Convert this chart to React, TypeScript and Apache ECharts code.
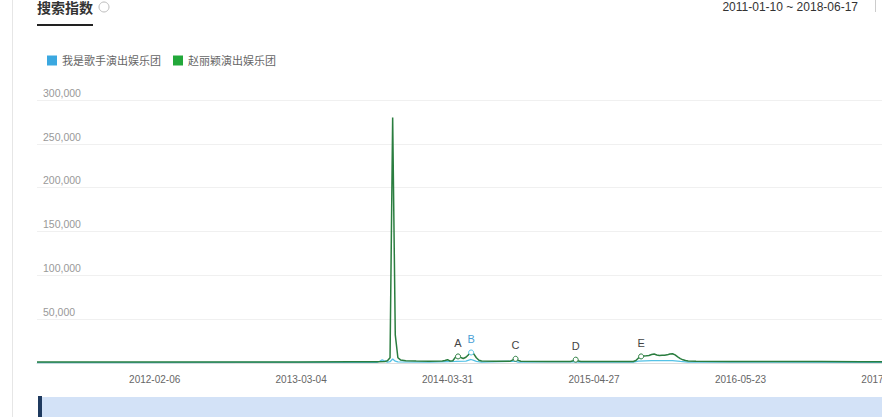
import React, { useEffect, useRef } from "react";
import * as echarts from "echarts";

const startDate = "2011-03-28";
const weekCount = 331;
const firstLabelIndex = 45;
const labelEvery = 56;

const seriesNames = ["我是歌手演出娱乐团", "赵丽颖演出娱乐团"];

// [week index, value]
const bluePoints: [number, number][] = [
  [0, 500], [40, 500], [80, 600], [120, 700], [130, 800], [131, 2000], [132, 3500],
  [133, 2200], [134, 900], [135, 1500], [136, 4500], [137, 2000], [138, 1200],
  [150, 1000], [157, 1600], [160, 1800], [164, 2200], [166, 4000], [167, 3000],
  [168, 1800], [170, 1100], [183, 2200], [184, 1000], [206, 1600], [207, 900],
  [228, 1000], [230, 2200], [235, 2600], [243, 2800], [246, 1800], [249, 1100],
  [280, 900], [330, 800],
];

const greenPoints: [number, number][] = [
  [0, 1200], [20, 1000], [40, 1100], [60, 1000], [80, 1200], [100, 1100], [120, 1300],
  [130, 1500], [133, 1800], [134, 2500], [135, 6000], [136, 280000], [137, 32000],
  [138, 6000], [139, 3500], [141, 2500], [145, 2200], [150, 2000], [155, 2200],
  [156, 2800], [157, 3800], [158, 2200], [159, 2600], [160, 6500], [161, 7500],
  [162, 6200], [163, 5200], [164, 6500], [165, 9500], [166, 12000], [167, 10500],
  [168, 6000], [169, 3200], [170, 2200], [175, 2000], [181, 2100], [182, 3500],
  [183, 4800], [184, 3000], [185, 2000], [195, 1800], [204, 1800], [205, 2600],
  [206, 3800], [207, 2200], [208, 1700], [220, 1600], [228, 1800], [229, 2800],
  [230, 5800], [231, 7500], [232, 8000], [233, 8200], [234, 8600], [235, 9600],
  [236, 10200], [237, 9200], [238, 8600], [239, 8900], [240, 8800], [241, 9300],
  [242, 10300], [243, 10600], [244, 9200], [245, 7000], [246, 5000], [247, 3600],
  [248, 2800], [249, 2300], [252, 2000], [265, 1800], [280, 1700], [300, 1600],
  [315, 1500], [330, 1500],
];

const greenMarkers: { name: string; coord: [number, number] }[] = [
  { name: "A", coord: [161, 7500] },
  { name: "C", coord: [183, 4800] },
  { name: "D", coord: [206, 3800] },
  { name: "E", coord: [231, 7500] },
];
const blueMarkers: { name: string; coord: [number, number] }[] = [
  { name: "B", coord: [166, 12000] },
];

const yMax = 300000;
const yInterval = 50000;
const dateRange = "2011-01-10 ~ 2018-06-17";
const title = "搜索指数";

function buildCategories(): string[] {
  const out: string[] = [];
  const [y, m, d] = startDate.split("-").map(Number);
  const base = Date.UTC(y, m - 1, d);
  for (let i = 0; i < weekCount; i++) {
    const dt = new Date(base + i * 7 * 86400000);
    const mm = String(dt.getUTCMonth() + 1).padStart(2, "0");
    const dd = String(dt.getUTCDate()).padStart(2, "0");
    out.push(`${dt.getUTCFullYear()}-${mm}-${dd}`);
  }
  return out;
}

const FONT = "Arial, 'Liberation Sans', 'Noto Sans CJK SC', sans-serif";

export default function App() {
  const ref = useRef<HTMLDivElement>(null);
  useEffect(() => {
    if (!ref.current) return;
    const chart = echarts.init(ref.current, undefined, { renderer: "svg" });
    const categories = buildCategories();
    const green = "#2a7d3f";
    const blue = "#55c2e6";
    const markerLabel = (color: string) => ({
      show: true,
      position: "top",
      distance: 5,
      formatter: "{b}",
      color,
      fontSize: 11,
    });
    chart.setOption({
      animation: false,
      textStyle: { fontFamily: FONT },
      grid: { left: 37, right: 30, top: 100, bottom: 54 },
      legend: {
        left: 42,
        top: 50,
        icon: "rect",
        itemWidth: 10,
        itemHeight: 10,
        itemGap: 12,
        textStyle: { fontSize: 11, color: "#666" },
        data: seriesNames,
      },
      xAxis: {
        type: "category",
        data: categories,
        boundaryGap: false,
        axisTick: { show: false },
        axisLine: { lineStyle: { color: "#dddddd" } },
        axisLabel: {
          color: "#666",
          fontSize: 10,
          margin: 11,
          interval: (index: number) =>
            index >= firstLabelIndex && (index - firstLabelIndex) % labelEvery === 0,
        },
        splitLine: { show: false },
      },
      yAxis: {
        type: "value",
        min: 0,
        max: yMax,
        interval: yInterval,
        axisLine: { show: false },
        axisTick: { show: false },
        axisLabel: {
          inside: true,
          margin: 6,
          verticalAlign: "bottom",
          padding: [0, 0, 2, 0],
          color: "#999",
          fontSize: 10.5,
          formatter: (v: number) => (v === 0 ? "" : v.toLocaleString("en-US")),
        },
        splitLine: { lineStyle: { color: "#f0f0f0" } },
      },
      series: [
        {
          name: seriesNames[0],
          type: "line",
          data: bluePoints,
          showSymbol: false,
          symbol: "none",
          itemStyle: { color: "#3ba8e0" },
          lineStyle: { color: blue, width: 1.3 },
          markPoint: {
            symbol: "circle",
            symbolSize: 5,
            itemStyle: { color: "#fff", borderColor: blue, borderWidth: 1 },
            label: markerLabel("#4a9fd6"),
            data: blueMarkers,
          },
          z: 2,
        },
        {
          name: seriesNames[1],
          type: "line",
          data: greenPoints,
          showSymbol: false,
          symbol: "none",
          itemStyle: { color: "#22a83a" },
          lineStyle: { color: green, width: 1.5 },
          markPoint: {
            symbol: "circle",
            symbolSize: 5,
            itemStyle: { color: "#fff", borderColor: green, borderWidth: 1 },
            label: markerLabel("#444"),
            data: greenMarkers,
          },
          z: 3,
        },
      ],
      graphic: [
        { type: "line", shape: { x1: 12.5, y1: 0, x2: 12.5, y2: 417 }, style: { stroke: "#e6e6e6", lineWidth: 1 }, silent: true },
        { type: "text", x: 37, y: 8, style: { text: title, fontSize: 14, fontWeight: "bold", fill: "#333", verticalAlign: "middle", fontFamily: FONT } },
        { type: "rect", shape: { x: 37, y: 24, width: 56, height: 2 }, style: { fill: "#222" } },
        { type: "circle", shape: { cx: 104, cy: 7, r: 5 }, style: { fill: "none", stroke: "#bbb", lineWidth: 1 } },
        { type: "text", x: 858, y: 7, style: { text: dateRange, fontSize: 12, fill: "#333", align: "right", verticalAlign: "middle", fontFamily: FONT } },
        { type: "line", shape: { x1: 875.5, y1: 0, x2: 875.5, y2: 12 }, style: { stroke: "#ccc", lineWidth: 1 } },
        { type: "rect", shape: { x: 42, y: 397, width: 900, height: 20 }, style: { fill: "#d3e2f7" } },
        { type: "rect", shape: { x: 38, y: 396, width: 4, height: 21 }, style: { fill: "#1f3a5f" } },
      ],
    });
    return () => chart.dispose();
  }, []);
  return (
    <div style={{ position: "absolute", left: 0, top: 0, width: 882, height: 417, overflow: "hidden", background: "#fff" }}>
      <div ref={ref} style={{ width: 930, height: 417 }} />
    </div>
  );
}
